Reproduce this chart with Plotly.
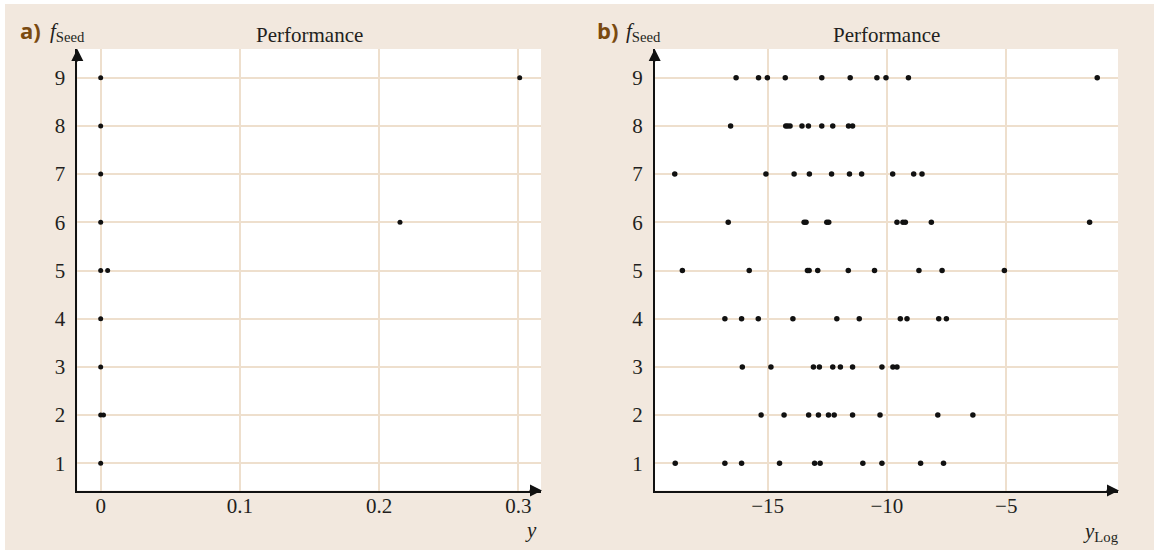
import plotly.graph_objects as go

# ---------------- data ----------------
seeds = [1, 2, 3, 4, 5, 6, 7, 8, 9]

# panel a: performance y per seed
a_seed = [9, 9, 8, 7, 6, 6, 5, 5, 4, 3, 2, 2, 1]
a_y = [0.0, 0.301, 0.0, 0.0, 0.0, 0.215, 0.0, 0.005, 0.0, 0.0, 0.0, 0.002, 0.0]

# panel b: log performance per seed (10 runs each)
b_vals = {
    9: [-16.32, -15.38, -15.01, -14.26, -12.73, -11.54, -10.42, -10.04, -9.10, -1.19],
    8: [-16.55, -14.24, -14.16, -14.06, -13.56, -13.29, -12.73, -12.27, -11.61, -11.44],
    7: [-18.89, -15.07, -13.89, -13.25, -12.32, -11.57, -11.06, -9.76, -8.88, -8.53],
    6: [-16.65, -13.47, -13.39, -12.52, -12.44, -9.58, -9.33, -9.23, -8.14, -1.51],
    5: [-18.57, -15.77, -13.33, -13.26, -12.90, -11.62, -10.52, -8.66, -7.69, -5.08],
    4: [-16.79, -16.09, -15.39, -13.94, -12.10, -11.16, -9.44, -9.16, -7.83, -7.51],
    3: [-16.06, -14.86, -13.08, -12.83, -12.27, -11.95, -11.44, -10.21, -9.75, -9.58],
    2: [-15.27, -14.31, -13.28, -12.87, -12.45, -12.21, -11.44, -10.29, -7.87, -6.40],
    1: [-18.87, -16.79, -16.09, -14.50, -13.03, -12.80, -11.01, -10.21, -8.59, -7.63],
}

a_xticks = [0, 0.1, 0.2, 0.3]
a_xticklabels = ["0", "0.1", "0.2", "0.3"]
b_xticks = [-15, -10, -5]
b_xticklabels = ["\u221215", "\u221210", "\u22125"]

# ---------------- layout helpers ----------------
W, H = 1154, 550
def px(x):
    return x / W
def py(y):
    return 1 - y / H

BG = "#F2E8DE"
GRID = "#EEDFCD"
INK = "#231F20"
BROWN = "#7A4A10"
SERIF = "Liberation Serif, Times New Roman, serif"

b_x, b_s = [], []
for s in seeds:
    for v in b_vals[s]:
        b_x.append(v)
        b_s.append(s)

fig = go.Figure()
fig.add_trace(go.Scatter(x=a_y, y=a_seed, mode="markers", xaxis="x", yaxis="y",
                         marker=dict(size=5, color="#111111"), showlegend=False))
fig.add_trace(go.Scatter(x=b_x, y=b_s, mode="markers", xaxis="x2", yaxis="y2",
                         marker=dict(size=5.5, color="#111111"), showlegend=False))

ydom = [py(490.5), py(49)]
common_x = dict(showgrid=True, gridcolor=GRID, gridwidth=1.5, zeroline=False,
                showline=True, linecolor="#111111", linewidth=1.5,
                ticks="", ticklen=0, tickfont=dict(family=SERIF, size=21, color=INK),
                ticklabelstandoff=-4)
common_y = dict(showgrid=True, gridcolor=GRID, gridwidth=1.5, zeroline=False,
                showline=True, linecolor="#111111", linewidth=1.5,
                ticks="", ticklen=0, tickfont=dict(family=SERIF, size=21, color=INK),
                tickvals=seeds, ticktext=[str(s) for s in seeds],
                range=[0.436, 9.595], ticklabelstandoff=6)

fig.update_layout(
    width=W, height=H,
    margin=dict(l=0, r=0, t=0, b=0),
    paper_bgcolor=BG, plot_bgcolor="white",
    xaxis=dict(domain=[px(77.3), px(541)], range=[-0.0168, 0.3163],
               tickvals=a_xticks, ticktext=a_xticklabels, anchor="y", **common_x),
    yaxis=dict(domain=ydom, anchor="x", **common_y),
    xaxis2=dict(domain=[px(654.7), px(1118)], range=[-19.73, -0.32],
                tickvals=b_xticks, ticktext=b_xticklabels, anchor="y2", **common_x),
    yaxis2=dict(domain=ydom, anchor="x2", **common_y),
)

# white strips at the top/left edge of the picture
fig.add_shape(type="rect", xref="paper", yref="paper", x0=0, x1=1, y0=py(4), y1=1,
              fillcolor="white", line_width=0, layer="below")
fig.add_shape(type="rect", xref="paper", yref="paper", x0=0, x1=px(5), y0=0, y1=1,
              fillcolor="white", line_width=0, layer="below")

ann = []
def arrow(xt, yt, ax, ay):
    ann.append(dict(xref="paper", yref="paper", x=px(xt), y=py(yt), ax=ax, ay=ay,
                    text="", showarrow=True, arrowhead=2, arrowsize=1.6,
                    arrowwidth=1.5, arrowcolor="#111111"))

# axis arrows
arrow(77.3, 49, 0, 14)
arrow(542, 490.5, -14, 0)
arrow(654.7, 49, 0, 14)
arrow(1119, 490.5, -14, 0)

def text(x, y, t, size=21, color=INK, family=SERIF, xanchor="center"):
    ann.append(dict(xref="paper", yref="paper", x=px(x), y=py(y), text=t,
                    showarrow=False, xanchor=xanchor, yanchor="middle",
                    font=dict(family=family, size=size, color=color)))

text(30, 30, "<b>a)</b>", size=22, color=BROWN, family="Open Sans, Liberation Sans, sans-serif")
text(607, 30, "<b>b)</b>", size=22, color=BROWN, family="Open Sans, Liberation Sans, sans-serif")
text(48, 32, "<i>f</i><sub>Seed</sub>", xanchor="left")
text(624, 32, "<i>f</i><sub>Seed</sub>", xanchor="left")
text(309, 35, "Performance")
text(886.5, 35, "Performance")
text(531, 530, "<i>y</i>")
text(1101, 532, "<i>y</i><sub>Log</sub>")

fig.update_layout(annotations=ann)
fig.write_html("out.html")
